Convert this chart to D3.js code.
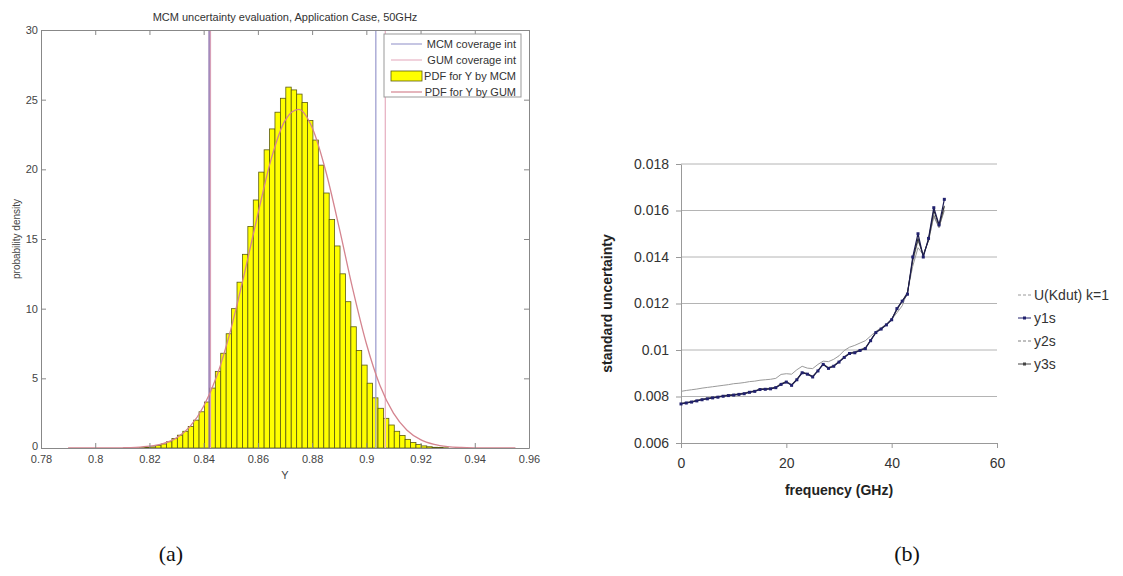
<!DOCTYPE html>
<html>
<head>
<meta charset="utf-8">
<script src="https://cdn.jsdelivr.net/npm/d3@7"></script>
<style>
  body { margin: 0; background: #fff; }
  svg { display: block; font-family: "Liberation Sans", Arial, sans-serif; }
</style>
</head>
<body>
<svg id="fig" width="1123" height="576"></svg>
<script>
// ---------------------- data (a) ---------------------------
// histogram bins (left edge) and MCM density
const mcmBins = [0.8143,0.8163,0.8183,0.8203,0.8223,0.8243,0.8263,0.8283,0.8303,0.8323,0.8343,0.8363,
  0.8383,0.8403,0.8423,0.8443,0.8463,0.8483,0.8503,0.8523,0.8543,0.8563,0.8583,0.8603,0.8623,0.8643,
  0.8663,0.8683,0.8703,0.8723,0.8743,0.8763,0.8783,0.8803,0.8823,0.8843,0.8863,0.8883,0.8903,0.8923,
  0.8943,0.8963,0.8983,0.9003,0.9023,0.9043,0.9063,0.9083,0.9103,0.9123,0.9143,0.9163,0.9183,0.9203,
  0.9223,0.9243,0.9263,0.9283];
const mcmDensity = [0.01,0.02,0.04,0.08,0.17,0.29,0.45,0.68,0.92,1.2,1.55,2.0,2.6,3.3,
  4.3,5.5,6.8,8.2,10.0,11.9,13.9,15.9,17.8,19.8,21.4,22.9,24.1,25.1,25.9,25.7,
  25.4,24.8,23.5,22.1,20.3,18.3,16.4,14.5,12.5,10.5,8.7,7.0,5.95,4.65,3.6,2.85,
  2.13,1.65,1.2,0.9,0.62,0.4,0.25,0.15,0.09,0.05,0.03,0.015];
const binWidth = 0.002;

// GUM pdf
const gumX = [0.79,0.795,0.8,0.805,0.81,0.815,0.82,0.825,0.83,0.835,0.84,0.845,0.85,0.855,0.86,0.865,
  0.87,0.875,0.88,0.885,0.89,0.895,0.9,0.905,0.91,0.915,0.92,0.925,0.93,0.935,0.94,0.945,0.95,0.955];
const gumY = [0,0,0.001,0.005,0.015,0.046,0.13,0.32,0.73,1.55,3.0,5.25,8.5,12.5,16.8,20.8,
  23.5,24.3,23.0,19.9,15.8,11.4,7.5,4.5,2.5,1.28,0.6,0.26,0.1,0.037,0.012,0.004,0.001,0];

const mcmInterval = [0.842, 0.9035];
const gumInterval = [0.8425, 0.907];
const xTicksA = [0.78,0.8,0.82,0.84,0.86,0.88,0.9,0.92,0.94,0.96];
const yTicksA = [0,5,10,15,20,25,30];
const legendA = ["MCM coverage int","GUM coverage int","PDF for Y by MCM","PDF for Y by GUM"];

// ---------------------- data (b) ---------------------------
const freq = [0,1,2,3,4,5,6,7,8,9,10,11,12,13,14,15,16,17,18,19,20,21,22,23,24,25,
  26,27,28,29,30,31,32,33,34,35,36,37,38,39,40,41,42,43,44,45,46,47,48,49,50];
const uKdut = [0.00822,0.00826,0.00829,0.00832,0.00836,0.00839,0.00842,0.00845,0.00848,0.00851,
  0.00855,0.00857,0.0086,0.00864,0.00866,0.0087,0.00872,0.00874,0.00878,0.00895,0.00898,0.00896,
  0.00915,0.0093,0.00922,0.0092,0.00938,0.00952,0.0095,0.0096,0.00975,0.00998,0.01012,0.0102,
  0.0103,0.0104,0.0106,0.0108,0.01095,0.0111,0.01132,0.0116,0.0119,0.0125,0.0136,0.0144,
  0.0141,0.0147,0.01575,0.01525,0.01615];
const y1s = [0.00768,0.00772,0.00776,0.00781,0.00786,0.0079,0.00794,0.00797,0.00801,0.00804,
  0.00806,0.00809,0.00812,0.00818,0.00822,0.0083,0.00831,0.00833,0.00838,0.00852,0.00862,0.00848,
  0.00872,0.00902,0.00896,0.00884,0.0091,0.00938,0.00921,0.0093,0.00948,0.00968,0.00985,0.00988,
  0.00998,0.01006,0.0104,0.01075,0.0109,0.01108,0.0113,0.01178,0.0121,0.0124,0.014,0.015,
  0.014,0.0148,0.01612,0.01538,0.01648];
const y2s = [0.00771,0.00775,0.00779,0.00784,0.00789,0.00793,0.00797,0.008,0.00804,0.00807,
  0.00809,0.00812,0.00815,0.00821,0.00825,0.00833,0.00834,0.00836,0.00841,0.00856,0.00865,0.00852,
  0.00876,0.00905,0.00899,0.00888,0.00913,0.00941,0.00925,0.00934,0.00952,0.00972,0.00988,0.00992,
  0.01002,0.0101,0.01044,0.01078,0.01094,0.01112,0.01135,0.01172,0.0121,0.0125,0.0138,0.0147,
  0.0141,0.0147,0.0158,0.0153,0.016];
const y3s = [0.00769,0.00773,0.00777,0.00782,0.00787,0.00791,0.00795,0.00798,0.00802,0.00805,
  0.00807,0.0081,0.00813,0.00819,0.00823,0.00831,0.00832,0.00834,0.00839,0.00853,0.00863,0.00849,
  0.00873,0.00903,0.00897,0.00885,0.00911,0.00939,0.00922,0.00931,0.00949,0.00969,0.00986,0.00989,
  0.00999,0.01007,0.01041,0.01076,0.01091,0.01109,0.01131,0.01175,0.0121,0.01245,0.0139,0.0148,
  0.01405,0.01475,0.016,0.01535,0.0162];
const xTicksB = [0,20,40,60];
const yTicksB = [0.006,0.008,0.01,0.012,0.014,0.016,0.018];
const legendB = ["U(Kdut) k=1","y1s","y2s","y3s"];

const svg = d3.select("#fig");
svg.append("rect").attr("width",1123).attr("height",576).attr("fill","#fff");

// ===================== chart (a) =====================
const A = {left: 41, right: 529, top: 30, bottom: 448};
const xA = d3.scaleLinear().domain([0.78, 0.96]).range([A.left, A.right]);
const yA = d3.scaleLinear().domain([0, 30]).range([A.bottom, A.top]);
const fmt2 = d => String(+d.toFixed(2));

const gA = svg.append("g");

// histogram
gA.append("g").selectAll("rect")
  .data(mcmBins.map((b, i) => ({x0: b, v: mcmDensity[i]})))
  .join("rect")
  .attr("x", d => xA(d.x0))
  .attr("width", d => xA(d.x0 + binWidth) - xA(d.x0))
  .attr("y", d => yA(d.v))
  .attr("height", d => yA(0) - yA(d.v))
  .attr("fill", "#ffff00")
  .attr("stroke", "#5a5a10")
  .attr("stroke-width", 0.8);

// coverage interval lines
gA.append("line").attr("x1", xA(mcmInterval[1])).attr("x2", xA(mcmInterval[1]))
  .attr("y1", A.top).attr("y2", A.bottom).attr("stroke", "#a0a0d0").attr("stroke-width", 1.3);
gA.append("line").attr("x1", xA(gumInterval[1])).attr("x2", xA(gumInterval[1]))
  .attr("y1", A.top).attr("y2", A.bottom).attr("stroke", "#e8b4c4").attr("stroke-width", 1.3);
gA.append("line").attr("x1", xA(gumInterval[0])).attr("x2", xA(gumInterval[0]))
  .attr("y1", A.top).attr("y2", A.bottom).attr("stroke", "#d8a0b8").attr("stroke-width", 1.3);
gA.append("line").attr("x1", xA(mcmInterval[0])).attr("x2", xA(mcmInterval[0]))
  .attr("y1", A.top).attr("y2", A.bottom).attr("stroke", "#8868a8").attr("stroke-width", 1.3);

// GUM pdf
gA.append("path")
  .datum(gumX.map((x, i) => [x, gumY[i]]))
  .attr("fill", "none")
  .attr("stroke", "#d4848f")
  .attr("stroke-width", 1.3)
  .attr("d", d3.line().x(d => xA(d[0])).y(d => yA(d[1])).curve(d3.curveMonotoneX));

// axes, MATLAB style (ticks inside, box all round)
function styleAxis(g) {
  g.selectAll("path").attr("stroke", "#888");
  g.selectAll("line").attr("stroke", "#888");
  g.selectAll("text").attr("fill", "#444").style("font-size", "11px");
}
gA.append("g").attr("transform", `translate(0,${A.bottom})`)
  .call(d3.axisBottom(xA).tickValues(xTicksA).tickFormat(fmt2).tickSize(-5).tickSizeOuter(0).tickPadding(7))
  .call(styleAxis);
gA.append("g").attr("transform", `translate(0,${A.top})`)
  .call(d3.axisTop(xA).tickValues(xTicksA).tickFormat("").tickSize(-5).tickSizeOuter(0))
  .call(styleAxis);
gA.append("g").attr("transform", `translate(${A.left},0)`)
  .call(d3.axisLeft(yA).tickValues(yTicksA).tickSize(-5).tickSizeOuter(0).tickPadding(3))
  .call(styleAxis);
gA.append("g").attr("transform", `translate(${A.right},0)`)
  .call(d3.axisRight(yA).tickValues(yTicksA).tickFormat("").tickSize(-5).tickSizeOuter(0))
  .call(styleAxis);
gA.selectAll(".domain").attr("fill", "none");
// nudge the "0" up a little so it clears the 0.78 label
gA.selectAll("text").filter(function() { return this.textContent === "0"; }).attr("dy", "0.1em");

// title and labels
gA.append("text").attr("x", (A.left + A.right) / 2).attr("y", 21)
  .attr("text-anchor", "middle").attr("fill", "#333").style("font-size", "11px")
  .text("MCM uncertainty evaluation, Application Case, 50GHz");
gA.append("text").attr("x", (A.left + A.right) / 2).attr("y", 479)
  .attr("text-anchor", "middle").attr("fill", "#444").style("font-size", "11px").text("Y");
gA.append("text").attr("transform", `translate(20,${(A.top + A.bottom) / 2}) rotate(-90)`)
  .attr("text-anchor", "middle").attr("fill", "#444").style("font-size", "10px")
  .text("probability density");

// legend (a)
const legA = gA.append("g");
legA.append("rect").attr("x", 384).attr("y", 34).attr("width", 137).attr("height", 63)
  .attr("fill", "#fff").attr("stroke", "#999");
const legAcolors = ["#a0a0d0", "#e8b4c4", null, "#d4848f"];
legendA.forEach((t, i) => {
  const cy = 44 + i * 16;
  if (legAcolors[i]) {
    legA.append("line").attr("x1", 391).attr("x2", 422).attr("y1", cy).attr("y2", cy)
      .attr("stroke", legAcolors[i]).attr("stroke-width", 1.2);
  } else {
    legA.append("rect").attr("x", 391).attr("y", cy - 5).attr("width", 31).attr("height", 10)
      .attr("fill", "#ffff00").attr("stroke", "#5a5a10").attr("stroke-width", 0.8);
  }
  legA.append("text").attr("x", 516).attr("y", cy + 4).attr("text-anchor", "end")
    .attr("fill", "#333").style("font-size", "11px").text(t);
});

// ===================== chart (b) =====================
const B = {left: 681, right: 997, top: 164, bottom: 443};
const xB = d3.scaleLinear().domain([0, 60]).range([B.left, B.right]);
const yB = d3.scaleLinear().domain([0.006, 0.018]).range([B.bottom, B.top]);
const gB = svg.append("g");

// horizontal gridlines
gB.append("g").selectAll("line")
  .data(yTicksB.slice(1))
  .join("line")
  .attr("x1", B.left).attr("x2", B.right)
  .attr("y1", d => yB(d)).attr("y2", d => yB(d))
  .attr("stroke", "#b4b4b4").attr("stroke-width", 1);

gB.append("g").attr("transform", `translate(0,${B.bottom})`)
  .call(d3.axisBottom(xB).tickValues(xTicksB).tickSize(5).tickSizeOuter(0).tickPadding(10))
  .call(g => {
    g.selectAll("path, line").attr("stroke", "#999");
    g.selectAll("text").attr("fill", "#333").style("font-size", "14px");
  });
gB.append("g").attr("transform", `translate(${B.left},0)`)
  .call(d3.axisLeft(yB).tickValues(yTicksB).tickFormat(d => String(+d.toFixed(3))).tickSize(5).tickSizeOuter(0).tickPadding(7))
  .call(g => {
    g.selectAll("path, line").attr("stroke", "#999");
    g.selectAll("text").attr("fill", "#333").style("font-size", "14px");
  });

const lineB = vals => d3.line().x((d, i) => xB(freq[i])).y(d => yB(d))(vals);
gB.append("path").attr("d", lineB(uKdut)).attr("fill", "none").attr("stroke", "#9a9a9a").attr("stroke-width", 1);
gB.append("path").attr("d", lineB(y2s)).attr("fill", "none").attr("stroke", "#808080").attr("stroke-width", 1);
gB.append("path").attr("d", lineB(y3s)).attr("fill", "none").attr("stroke", "#2a2a2a").attr("stroke-width", 1);
gB.append("path").attr("d", lineB(y1s)).attr("fill", "none").attr("stroke", "#1c1c50").attr("stroke-width", 1.2);
gB.append("g").selectAll("rect")
  .data(y1s)
  .join("rect")
  .attr("x", (d, i) => xB(freq[i]) - 1.5).attr("y", d => yB(d) - 1.5)
  .attr("width", 3).attr("height", 3)
  .attr("fill", "#22226e");

gB.append("text").attr("x", (B.left + B.right) / 2).attr("y", 495)
  .attr("text-anchor", "middle").attr("fill", "#222").style("font-size", "14px").style("font-weight", "bold")
  .text("frequency (GHz)");
gB.append("text").attr("transform", `translate(612,${(B.top + B.bottom) / 2}) rotate(-90)`)
  .attr("text-anchor", "middle").attr("fill", "#222").style("font-size", "14px").style("font-weight", "bold")
  .text("standard uncertainty");

// legend (b)
const legB = gB.append("g");
const legBcolors = ["#9a9a9a", "#22226e", "#808080", "#444"];
legendB.forEach((t, i) => {
  const cy = 295 + i * 23;
  legB.append("line").attr("x1", 1018).attr("x2", 1031).attr("y1", cy).attr("y2", cy)
    .attr("stroke", legBcolors[i]).attr("stroke-width", 1)
    .attr("stroke-dasharray", (i === 0 || i === 2) ? "3,2" : null);
  if (i === 1 || i === 3) {
    legB.append("rect").attr("x", 1023).attr("y", cy - 1.5).attr("width", 3).attr("height", 3)
      .attr("fill", legBcolors[i]);
  }
  legB.append("text").attr("x", 1034).attr("y", cy + 5).attr("fill", "#333")
    .style("font-size", "14px").text(t);
});

// panel captions
svg.append("text").attr("x", 171).attr("y", 561).attr("text-anchor", "middle")
  .style("font-family", "'Liberation Serif', 'DejaVu Serif', serif").style("font-size", "22px")
  .attr("fill", "#111").text("(a)");
svg.append("text").attr("x", 907).attr("y", 561).attr("text-anchor", "middle")
  .style("font-family", "'Liberation Serif', 'DejaVu Serif', serif").style("font-size", "22px")
  .attr("fill", "#111").text("(b)");
</script>
</body>
</html>
